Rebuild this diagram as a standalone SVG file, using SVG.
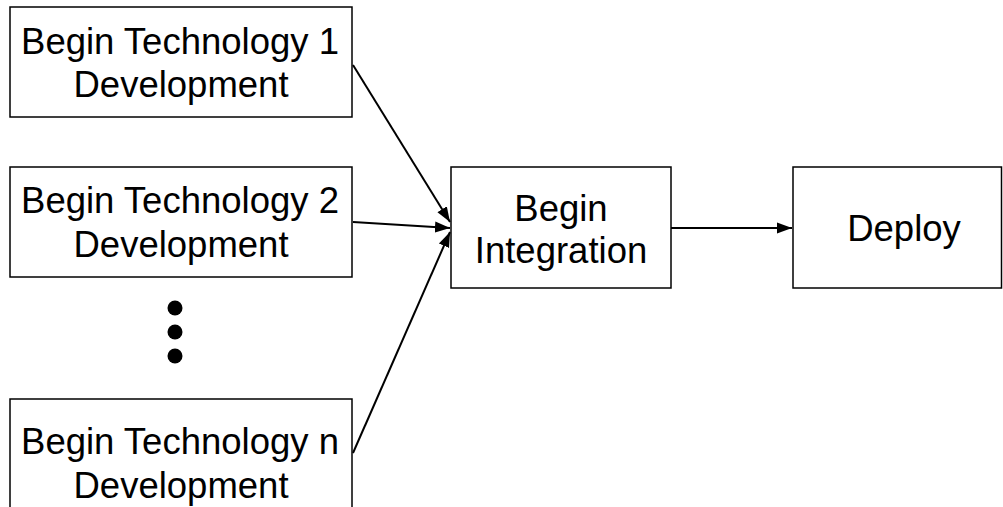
<svg xmlns="http://www.w3.org/2000/svg" width="1003" height="507" viewBox="0 0 1003 507">
<style>
.box{fill:#fff;stroke:#000;stroke-width:1.5}
.lbl{font-family:"Liberation Sans",Arial,sans-serif;font-size:36.5px;fill:#000;text-anchor:middle}
.con{stroke:#000;stroke-width:2;fill:none;marker-end:url(#ah)}
</style>
<defs>
<marker id="ah" markerUnits="userSpaceOnUse" markerWidth="16" markerHeight="14" refX="15" refY="7" orient="auto">
<path d="M0,1.5 L15,7 L0,12.5 Z" fill="#000"/>
</marker>
</defs>
<rect width="1003" height="507" fill="#fff"/>
<g id="tech1">
<rect class="box" x="10" y="7" width="342" height="110"/>
<text class="lbl" x="180" y="54">Begin Technology 1</text>
<text class="lbl" x="181" y="97">Development</text>
</g>
<g id="tech2">
<rect class="box" x="10" y="167" width="342" height="110"/>
<text class="lbl" x="180" y="213">Begin Technology 2</text>
<text class="lbl" x="181" y="257">Development</text>
</g>
<g id="ellipsis">
<circle cx="175" cy="308" r="7.5" fill="#000"/>
<circle cx="175" cy="332" r="7.5" fill="#000"/>
<circle cx="175" cy="356" r="7.5" fill="#000"/>
</g>
<g id="techn">
<rect class="box" x="10" y="399" width="342" height="120"/>
<text class="lbl" x="180" y="454">Begin Technology n</text>
<text class="lbl" x="181" y="498">Development</text>
</g>
<g id="integration">
<rect class="box" x="451" y="167" width="220" height="121"/>
<text class="lbl" x="561" y="221">Begin</text>
<text class="lbl" x="561" y="263">Integration</text>
</g>
<g id="deploy">
<rect class="box" x="793" y="167" width="208.5" height="121"/>
<text class="lbl" x="904" y="241">Deploy</text>
</g>
<g id="connectors">
<line class="con" x1="353" y1="65" x2="450" y2="222"/>
<line class="con" x1="353" y1="222" x2="450" y2="228"/>
<line class="con" x1="353" y1="453" x2="450" y2="232"/>
<line class="con" x1="671" y1="228" x2="792" y2="228"/>
</g>
</svg>
